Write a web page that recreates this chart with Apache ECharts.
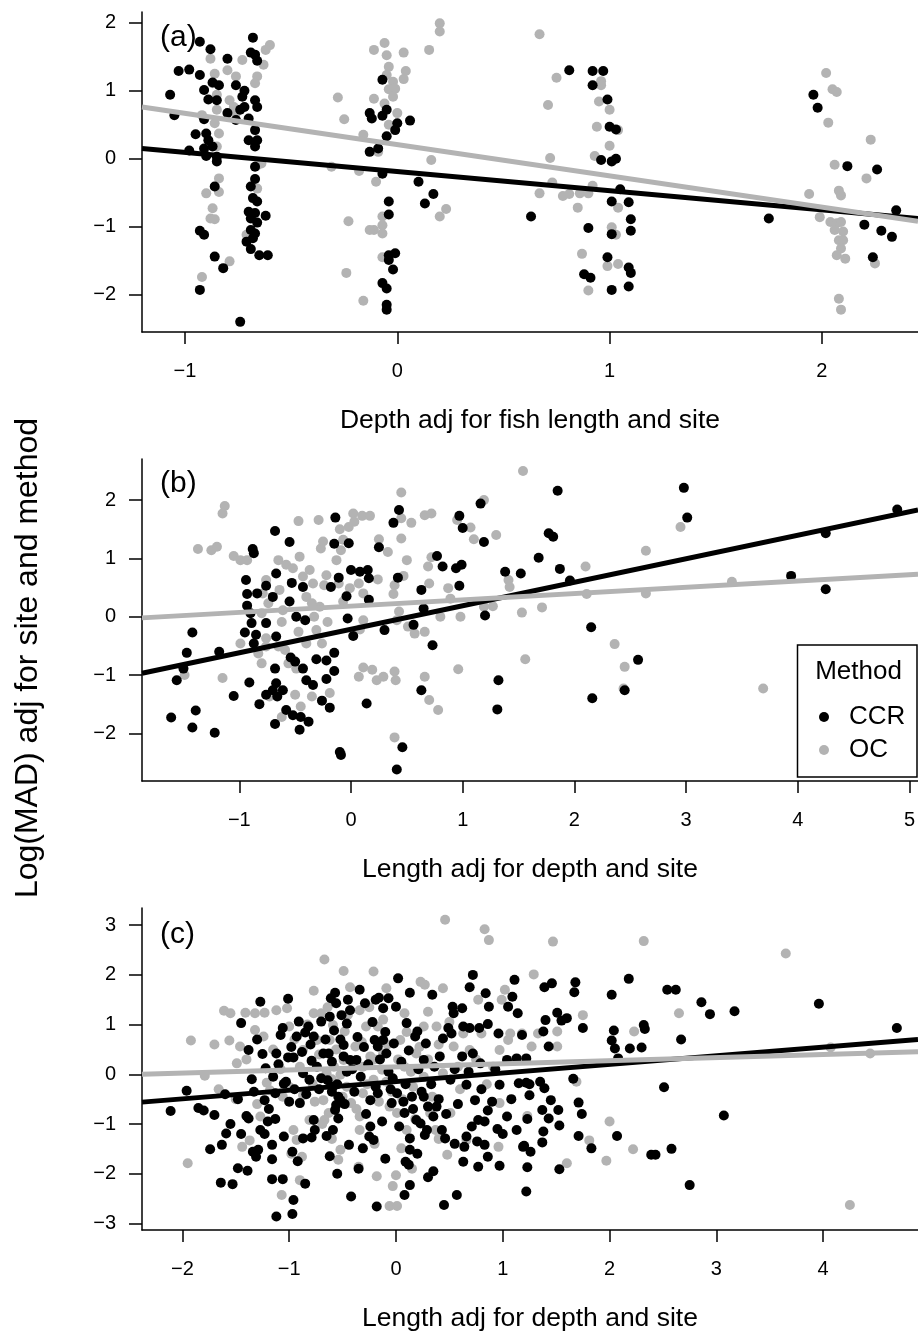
<!DOCTYPE html>
<html>
<head>
<meta charset="utf-8">
<script src="https://cdn.jsdelivr.net/npm/echarts@6/dist/echarts.min.js"></script>
<style>
  html, body { margin: 0; padding: 0; background: #fff; }
  #chart { width: 918px; height: 1334px; }
</style>
</head>
<body>
<div id="chart"></div>
<script>
// ---- data ----
// (a) depth adjusted for fish length and site
const depthCCR = [
  [-1.07,0.94],[-1.03,1.29],[-0.98,1.31],[-0.93,1.72],[-0.88,1.61],[-0.80,1.47],[-1.05,0.64],[-0.93,1.23],[-0.91,1.01],[-0.87,1.12],
  [-0.84,1.08],[-0.89,0.87],[-0.85,0.86],[-0.91,0.58],[-0.95,0.36],[-0.90,0.37],[-0.89,0.27],[-0.91,0.15],[-0.98,0.12],[-0.87,0.18],
  [-0.90,0.04],[-0.85,0.03],[-0.85,-0.04],[-0.86,-0.41],[-0.93,-1.06],[-0.91,-1.12],[-0.86,-1.44],[-0.82,-1.61],[-0.93,-1.93],[-0.80,0.67],
  [-0.74,-2.40],[-0.68,1.78],[-0.69,1.56],[-0.67,1.53],[-0.66,1.44],[-0.76,1.08],[-0.72,1.00],[-0.73,0.91],[-0.67,0.86],[-0.72,0.76],
  [-0.66,0.76],[-0.74,0.72],[-0.76,0.57],[-0.70,0.59],[-0.67,0.42],[-0.70,0.27],[-0.66,0.27],[-0.67,0.18],[-0.67,-0.12],[-0.67,-0.30],
  [-0.69,-0.41],[-0.68,-0.58],[-0.66,-0.63],[-0.70,-0.78],[-0.67,-0.80],[-0.62,-0.84],[-0.69,-0.88],[-0.66,-0.94],[-0.69,-1.05],[-0.67,-1.10],
  [-0.68,-1.17],[-0.69,-1.33],[-0.65,-1.42],[-0.61,-1.42],[-0.71,-1.22],
  [-0.07,1.16],[-0.13,0.67],[-0.12,0.59],[-0.07,0.63],[-0.05,0.72],[0.00,0.52],[0.06,0.56],[-0.01,0.42],[-0.05,0.33],[-0.09,0.15],
  [-0.13,0.10],[-0.07,-0.22],[0.10,-0.34],[0.17,-0.52],[0.13,-0.66],[-0.04,-0.63],[-0.04,-0.82],[-0.04,-1.42],[-0.01,-1.39],[-0.04,-1.49],
  [-0.02,-1.63],[-0.07,-1.83],[-0.05,-1.91],[-0.05,-2.15],[-0.05,-2.22],[0.63,-0.85],
  [0.81,1.30],[0.92,1.29],[0.97,1.29],[0.92,1.08],[0.99,0.87],[1.00,0.47],[1.03,0.43],[0.96,-0.02],[1.01,-0.04],[1.03,0.00],
  [1.05,-0.45],[1.01,-0.63],[1.09,-0.64],[1.10,-0.89],[1.10,-1.06],[0.90,-1.02],[1.01,-1.11],[0.99,-1.45],[0.88,-1.70],[0.91,-1.75],
  [1.09,-1.60],[1.10,-1.68],[1.01,-1.93],[1.09,-1.88],[1.75,-0.88],[1.96,0.94],[1.98,0.75],[2.12,-0.11],[2.26,-0.16],[2.35,-0.76],
  [2.20,-0.97],[2.28,-1.06],[2.33,-1.15],[2.24,-1.45]
];
const depthOC = [
  [-0.60,1.67],[-0.62,1.60],[-0.63,1.38],[-0.66,1.21],[-0.67,1.11],[-0.73,1.45],[-0.80,1.30],[-0.88,1.47],[-0.86,1.25],[-0.87,1.11],
  [-0.85,0.94],[-0.76,1.21],[-0.79,0.86],[-0.77,0.76],[-0.76,0.67],[-0.85,0.72],[-0.86,0.52],[-0.84,0.37],[-0.85,0.18],[-0.92,0.64],
  [-0.84,-0.29],[-0.84,-0.49],[-0.90,-0.51],[-0.87,-0.73],[-0.88,-0.88],[-0.86,-0.89],[-0.79,-1.51],[-0.92,-1.74],[-0.66,-0.44],[-0.64,-0.07],
  [-0.71,-1.12],[-0.66,-0.10],
  [-0.28,0.90],[-0.25,0.58],[-0.16,0.35],[-0.31,-0.12],[-0.18,-0.18],[-0.23,-0.92],[-0.24,-1.68],[-0.16,-2.09],[-0.11,1.60],[-0.06,1.70],
  [-0.05,1.52],[-0.04,1.35],[-0.05,1.23],[-0.02,1.13],[-0.04,1.02],[-0.01,1.03],[-0.11,0.88],[-0.06,0.81],[-0.02,0.91],[0.03,1.56],
  [0.04,1.29],[0.03,1.17],[0.00,0.67],[-0.04,0.50],[-0.09,0.10],[-0.10,-0.34],[-0.07,-0.85],[-0.11,-1.05],[-0.13,-1.05],[-0.07,-1.10],
  [-0.07,-0.98],[-0.07,-1.45],[0.20,1.99],[0.20,1.87],[0.15,1.60],[0.16,-0.02],[0.23,-0.74],[0.20,-0.85],
  [0.67,1.83],[0.75,1.19],[0.71,0.79],[0.72,0.01],[0.73,-0.35],[0.67,-0.51],[0.78,-0.55],[0.81,-0.52],[0.86,-0.51],[0.90,-0.51],
  [0.92,-0.40],[0.85,-0.72],[0.96,1.14],[0.96,1.08],[0.95,0.84],[1.00,0.72],[0.94,0.47],[1.04,0.42],[1.00,0.19],[0.93,0.04],
  [1.04,-0.72],[1.01,-1.01],[1.03,-1.12],[0.87,-1.40],[0.99,-1.58],[1.04,-1.55],[0.90,-1.94],
  [2.02,1.26],[2.05,1.02],[2.07,0.98],[2.03,0.53],[2.23,0.28],[2.06,-0.09],[2.21,-0.29],[2.08,-0.47],[2.09,-0.54],[1.94,-0.52],
  [1.99,-0.86],[2.04,-0.93],[2.07,-0.95],[2.09,-0.93],[2.06,-1.05],[2.10,-1.07],[2.08,-1.20],[2.10,-1.20],[2.09,-1.32],[2.07,-1.42],
  [2.11,-1.47],[2.25,-1.54],[2.08,-2.06],[2.09,-2.22]
];

// (b) length adjusted for depth and site
const lengthCCR_b = [
  [-1.61,-1.73],[-1.42,-1.90],[-1.39,-1.61],[-1.22,-1.99],[-1.56,-1.09],[-1.50,-0.89],[-1.47,-0.62],[-1.42,-0.27],[-1.18,-0.60],[-1.05,-1.36],
  [-0.91,-1.13],[-0.82,-1.50],[-0.68,-1.84],[-0.68,1.47],[-0.88,1.16],[-0.87,1.09],[-0.94,0.63],[-0.93,0.39],[-0.84,0.40],[-0.93,0.19],
  [-0.76,0.53],[-0.67,0.74],[-0.70,0.34],[-0.90,0.06],[-0.89,-0.11],[-0.95,-0.27],[-0.85,-0.31],[-0.87,-0.46],[-0.67,-0.34],[-0.76,-0.11],
  [-0.68,-0.89],[-0.67,-1.14],[-0.70,-1.26],[-0.76,-1.34],[-0.66,-1.37],[-0.61,-1.26],[-0.58,-1.60],[-0.52,-1.69],[-0.45,-1.72],[-0.38,-1.80],
  [-0.46,-1.94],[-0.55,0.26],[-0.53,0.58],[-0.55,1.28],[-0.43,0.51],[-0.41,-0.06],[-0.49,0.00],[-0.54,-0.70],[-0.50,-0.77],[-0.43,-0.89],
  [-0.40,-1.09],[-0.34,-1.17],[-0.31,-0.73],[-0.22,-0.75],[-0.15,-0.62],[-0.15,-0.93],[-0.22,-1.07],[-0.26,-1.44],[-0.19,-1.56],[-0.15,1.25],
  [-0.14,1.70],[-0.18,0.51],[-0.11,0.67],[-0.04,0.35],[-0.02,1.26],[0.00,0.80],[0.08,0.77],[0.15,0.80],[0.16,0.66],[0.16,0.29],
  [-0.03,-0.03],[0.02,-0.33],[0.14,-1.49],[-0.10,-2.32],[-0.09,-2.37],[0.25,1.19],[0.38,1.61],[0.43,1.83],[0.42,0.67],[0.30,-0.23],
  [0.46,-2.24],[0.41,-2.62],[0.63,0.46],[0.56,-0.14],[0.65,0.14],[0.73,-0.49],[0.63,-1.26],[0.77,1.04],[0.82,0.86],[0.94,0.83],
  [0.99,0.89],[0.97,0.53],[0.97,1.73],[1.00,1.52],[1.16,1.94],[1.19,1.28],[1.20,0.02],[1.32,-1.09],[1.31,-1.59],[1.38,0.77],
  [1.52,0.74],[1.85,2.16],[1.77,1.43],[1.81,1.37],[1.68,1.01],[1.87,0.82],[1.96,0.62],[2.15,-0.18],[2.57,-0.74],[2.16,-1.40],
  [2.45,-1.26],[2.98,2.21],[3.01,1.70],[3.94,0.70],[4.25,1.43],[4.25,0.47],[4.89,1.84]
];
const lengthOC_b = [
  [-1.49,-1.00],[-1.37,1.16],[-1.25,1.14],[-1.20,1.20],[-1.13,1.90],[-1.15,1.77],[-1.15,-1.05],[-1.05,1.04],[-0.99,0.97],[-0.93,0.97],
  [-0.99,-0.46],[-0.76,0.63],[-0.79,0.40],[-0.74,0.23],[-0.80,0.06],[-0.76,-0.37],[-0.83,-0.63],[-0.80,-0.80],[-0.76,-0.51],[-0.73,-1.37],
  [-0.62,-1.72],[-0.65,0.97],[-0.58,0.89],[-0.52,0.83],[-0.64,0.46],[-0.61,0.11],[-0.62,-0.09],[-0.65,-0.51],[-0.59,-0.57],[-0.56,-0.80],
  [-0.49,-0.89],[-0.50,-1.34],[-0.45,-1.54],[-0.47,1.64],[-0.46,1.03],[-0.43,0.69],[-0.40,0.34],[-0.47,-0.26],[-0.40,-0.46],[-0.37,0.80],
  [-0.34,0.57],[-0.35,0.23],[-0.33,0.00],[-0.31,-0.23],[-0.29,1.66],[-0.27,1.17],[-0.25,1.29],[-0.24,0.54],[-0.22,0.71],[-0.28,0.17],
  [-0.21,-0.09],[-0.26,-0.46],[-0.35,-1.37],[-0.19,-1.31],[-0.10,1.50],[-0.07,1.32],[-0.02,1.54],[0.02,1.77],[0.10,1.73],[0.17,1.73],
  [0.03,1.63],[-0.09,1.14],[-0.13,0.97],[-0.11,0.57],[-0.01,0.49],[0.07,0.57],[0.11,0.40],[-0.07,0.26],[0.11,-0.06],[0.08,-0.22],
  [0.25,1.33],[0.33,1.11],[0.24,0.64],[0.45,2.13],[0.45,1.69],[0.54,1.61],[0.45,1.34],[0.50,0.97],[0.47,0.70],[0.39,0.54],
  [0.38,0.39],[0.43,0.09],[0.41,-0.06],[0.51,-0.17],[0.57,-0.29],[0.66,-0.26],[0.07,-1.03],[0.11,-0.87],[0.19,-0.91],[0.23,-1.09],
  [0.29,-1.03],[0.39,-0.94],[0.40,-1.09],[0.39,-2.07],[0.66,-1.03],[0.70,-1.43],[0.78,-1.60],[0.66,1.74],[0.72,1.77],[0.72,1.02],
  [0.69,0.86],[0.70,0.57],[0.80,0.00],[0.87,0.49],[0.89,0.31],[0.98,0.00],[0.95,1.66],[1.07,1.53],[1.10,1.33],[1.19,2.00],
  [1.30,1.40],[0.96,-0.90],[1.19,0.17],[1.27,0.18],[1.41,0.63],[1.42,0.51],[1.53,0.07],[1.56,-0.73],[1.54,2.50],[1.71,0.16],
  [2.10,0.86],[2.11,0.39],[2.36,-0.47],[2.45,-0.86],[2.44,-1.23],[2.64,1.13],[2.64,0.40],[2.95,1.54],[3.41,0.60],[3.69,-1.23]
];

// (c) length adjusted for depth and site, second data set
const lengthCCR_c = [
  [-2.11,-0.74],[-1.96,-0.33],[-1.85,-0.68],[-1.80,-0.73],[-1.70,-0.82],[-1.74,-1.51],[-1.63,-1.42],[-1.59,-1.19],[-1.64,-2.18],[-1.53,-2.21],
  [-1.48,-1.89],[-1.39,-1.94],[-1.48,-0.50],[-1.40,-0.84],[-1.38,-0.89],[-1.34,-1.56],[-1.31,-1.66],[-1.29,-1.52],[-1.23,-1.20],[-1.16,-1.42],
  [-1.16,-1.71],[-1.16,-2.11],[-1.06,-2.11],[-1.12,-2.86],[-0.97,-2.81],[-0.96,-2.53],[-0.97,-1.56],[-1.13,-0.90],[-1.19,-0.70],[-1.27,1.46],
  [-1.45,1.03],[-1.38,0.49],[-1.25,0.41],[-1.33,-0.35],[-1.12,0.42],[-1.08,0.79],[-1.06,0.93],[-1.01,1.52],[-1.03,-0.15],[-1.01,0.34],
  [-0.96,0.34],[-0.91,1.06],[-0.93,0.76],[-0.85,0.84],[-0.82,0.96],[-0.77,0.76],[-0.79,0.27],[-0.87,0.02],[-0.81,-0.11],[-0.70,-0.08],
  [-1.05,-0.19],[-1.00,-0.55],[-0.90,-0.58],[-0.87,-1.29],[-0.79,-1.27],[-0.68,0.42],[-0.70,1.06],[-0.62,1.16],[-0.57,1.64],[-0.61,1.53],
  [-0.56,1.43],[-0.45,1.50],[-0.51,1.19],[-0.43,1.29],[-0.34,1.70],[-0.29,1.43],[-0.63,0.42],[-0.60,-0.35],[-0.54,-0.45],[-0.57,-0.72],
  [-0.54,-0.89],[-0.49,0.59],[-0.49,0.36],[-0.43,0.29],[-0.37,0.29],[-0.46,0.05],[-0.44,-1.42],[-0.42,-2.46],[-0.24,-1.05],[-0.25,-1.25],
  [-0.31,-1.49],[-0.21,-1.32],[-0.18,-2.66],[-0.17,-0.38],[-0.24,-0.52],[-0.20,0.69],[-0.17,0.56],[-0.12,0.69],[-0.09,0.42],[-0.19,1.50],
  [-0.16,1.54],[-0.12,1.33],[-0.07,1.53],[0.00,1.36],[0.02,1.93],[0.13,1.64],[-0.03,-0.08],[0.01,-0.38],[-0.04,-0.58],[0.07,-0.55],
  [0.15,-0.45],[0.08,-0.78],[0.19,-0.92],[0.13,-1.29],[0.13,-1.52],[0.09,-1.76],[0.12,-1.82],[0.13,-2.23],[0.08,-2.43],[0.30,-2.07],
  [0.27,-1.22],[0.23,-0.99],[0.29,-1.12],[0.35,-0.85],[0.38,-0.65],[0.26,-0.45],[0.30,-0.65],[0.43,-1.12],[0.46,-1.29],[0.45,-2.63],
  [0.57,-2.43],[0.63,-1.76],[0.77,-1.86],[0.77,-0.92],[0.83,-0.95],[0.76,-1.35],[0.83,-1.42],[0.86,-1.66],[0.64,-1.46],[0.66,-1.25],
  [0.74,-0.52],[0.86,-0.73],[0.97,-1.84],[1.04,-0.85],[1.13,-1.12],[1.19,-1.46],[1.22,-2.36],[0.97,-0.21],[1.15,-0.18],[1.22,-0.17],
  [0.66,-0.21],[0.51,-0.11],[0.26,0.29],[0.41,0.36],[0.62,0.36],[0.72,0.42],[0.79,0.22],[0.18,0.76],[0.20,0.86],[0.10,1.03],
  [0.49,0.93],[0.52,0.82],[0.63,0.96],[0.69,0.93],[0.78,0.93],[0.86,1.01],[0.96,0.82],[0.54,1.23],[0.62,1.33],[0.53,1.36],
  [0.34,1.60],[0.69,1.75],[0.72,2.00],[0.84,1.63],[0.87,1.36],[1.05,1.36],[1.09,1.56],[1.11,1.90],[1.14,1.23],[1.18,0.79],
  [1.04,0.29],[1.13,0.32],[-0.77,-0.92],[-0.76,-1.12],[-0.65,-1.24],[-0.59,-1.12],[-0.52,-0.52],[-0.59,-0.25],[-0.56,-0.62],[-1.13,-0.38],
  [-1.23,-0.52],[-1.27,-1.12],
  [-1.22,0.12],[-1.15,-0.05],[-1.10,0.20],[-0.98,0.55],[-0.95,-0.30],[-0.88,0.45],[-0.84,-0.40],[-0.80,0.60],[-0.74,0.15],[-0.72,-0.30],
  [-0.66,0.70],[-0.64,-0.12],[-0.60,0.25],[-0.58,0.88],[-0.55,-0.20],[-0.52,0.70],[-0.48,-0.60],[-0.46,1.02],[-0.41,0.10],[-0.39,-0.35],
  [-0.36,0.75],[-0.33,-0.05],[-0.30,0.55],[-0.28,-0.80],[-0.26,0.20],[-0.22,1.05],[-0.19,-0.25],[-0.15,0.30],[-0.13,-0.95],[-0.10,0.85],
  [-0.07,0.05],[-0.05,-0.30],[-0.02,0.62],[0.03,-1.05],[0.05,0.25],[0.09,-0.20],[0.12,0.48],[0.16,-0.70],[0.21,0.10],[0.24,-0.35],
  [0.28,0.62],[0.33,-0.20],[0.36,0.15],[0.40,-0.50],[0.44,0.72],[0.47,-0.80],[0.55,0.10],[0.58,-0.60],[0.68,0.05],[0.71,-1.05],
  [0.80,-0.30],[0.90,-0.55],[0.93,0.10],[1.00,-1.20],[1.08,-0.50],[-1.60,-0.40],[-1.55,-1.00],[-1.45,-1.20],[-1.35,-0.10],[-1.30,0.70],
  [-1.20,-0.95],[-1.05,-1.25],[-0.92,-1.75],[-0.85,-2.20],[-0.62,-1.65],[-0.55,-2.00],[-0.35,-1.90],[-0.10,-1.70],[0.20,-1.60],[0.35,-1.95],
  [0.55,-1.40],[0.95,-1.10],
  [1.22,0.32],[1.25,-0.20],[1.25,-0.42],[1.35,-0.15],[1.39,-0.28],[1.39,1.75],[1.46,1.83],[1.40,1.09],[1.38,0.86],[1.43,0.56],
  [1.51,1.24],[1.55,1.08],[1.60,1.13],[1.68,1.85],[1.67,1.65],[1.75,0.93],[1.66,-0.09],[1.45,-0.52],[1.37,-0.72],[1.52,-0.72],
  [1.43,-0.89],[1.23,-0.90],[1.53,-1.03],[1.38,-1.15],[1.37,-1.37],[1.20,-1.44],[1.26,-1.56],[1.23,-1.87],[1.53,-1.91],[1.71,-0.57],
  [1.74,-0.80],[1.71,-1.24],[1.83,-1.49],[2.02,1.60],[2.04,0.88],[2.02,0.68],[2.05,0.52],[2.07,-1.24],[2.18,1.92],[2.19,0.52],
  [2.30,0.54],[2.32,0.99],[2.33,0.91],[2.08,0.32],[2.39,-1.62],[2.43,-1.62],[2.54,1.70],[2.62,1.70],[2.67,0.70],[2.51,-0.26],
  [2.58,-1.50],[2.75,-2.23],[2.86,1.45],[2.94,1.21],[3.07,-0.83],[3.17,1.27],[3.96,1.42],[4.69,0.93]
];
const lengthOC_c = [
  [-1.95,-1.79],[-1.92,0.68],[-1.79,-0.03],[-1.66,-0.30],[-1.61,1.28],[-1.56,0.68],[-1.55,1.23],[-1.49,0.22],[-1.46,0.56],[-1.44,-1.46],
  [-1.41,1.24],[-1.37,-1.33],[-1.32,1.23],[-1.32,0.89],[-1.27,-0.85],[-1.24,0.76],[-1.23,1.24],[-1.21,-0.17],[-1.18,-0.32],[-1.12,1.29],
  [-1.07,-2.43],[-1.02,1.33],[-1.00,0.96],[-0.96,-1.12],[-0.93,-1.32],[-0.90,-2.13],[-0.88,-1.66],[-0.87,-0.42],[-0.81,-0.92],[-0.77,1.23],
  [-0.77,1.68],[-0.74,0.69],[-0.70,1.23],[-0.67,2.31],[-0.65,0.02],[-0.63,-0.78],[-0.59,0.99],[-0.58,0.15],[-0.54,-1.72],[-0.52,-1.52],
  [-0.49,2.08],[-0.48,0.86],[-0.46,-0.25],[-0.43,1.75],[-0.42,-0.58],[-0.38,0.56],[-0.35,-1.86],[-0.34,1.29],[-0.34,-0.85],[-0.31,0.15],
  [-0.28,0.96],[-0.21,2.07],[-0.21,-0.11],[-0.18,-2.05],[-0.17,0.96],[-0.13,0.09],[-0.09,1.73],[-0.06,-2.65],[-0.03,-2.25],[0.01,-2.65],
  [0.00,-2.03],[0.01,-0.78],[0.04,0.69],[0.05,-1.49],[0.08,1.23],[0.08,0.15],[0.16,-0.25],[0.19,0.42],[0.23,1.86],[0.27,1.80],
  [0.26,0.96],[0.30,1.26],[0.32,-0.78],[0.37,-1.12],[0.38,0.96],[0.44,1.73],[0.46,3.11],[0.48,-1.62],[0.51,-0.78],[0.54,0.56],
  [0.58,0.15],[0.63,0.82],[0.66,-1.32],[0.77,1.50],[0.80,0.82],[0.83,2.92],[0.87,2.70],[0.91,0.15],[0.96,-1.46],[0.97,-0.58],
  [0.99,1.50],[1.02,1.70],[1.05,0.69],[1.07,0.82],[1.18,0.82],[0.97,0.49],[0.69,0.49],[-0.12,0.42],[-0.24,0.36],[-0.49,0.29],
  [-0.68,-0.52],[-0.87,0.49],[-1.06,-0.45],[-0.31,-0.38],[-0.34,-1.12],[-0.67,-0.92],[-0.76,-0.55],[-0.52,-0.01],[0.26,-0.05],[0.44,0.02],
  [-0.09,-0.15],[0.10,-1.12],[-0.06,-0.65],[-0.62,0.69],
  [-1.40,0.30],[-1.30,-0.60],[-1.15,0.50],[-1.08,0.10],[-1.00,-0.25],[-0.95,0.70],[-0.90,0.15],[-0.83,1.00],[-0.78,-0.20],[-0.72,0.40],
  [-0.69,-1.00],[-0.64,1.35],[-0.60,-0.10],[-0.56,0.50],[-0.50,-0.45],[-0.45,1.20],[-0.40,0.20],[-0.37,-0.70],[-0.32,0.65],[-0.27,-0.20],
  [-0.25,1.35],[-0.20,0.30],[-0.16,-0.55],[-0.12,1.10],[-0.08,0.60],[-0.04,-0.35],[0.02,0.30],[0.06,-0.50],[0.10,0.85],[0.14,0.05],
  [0.18,-0.90],[0.22,0.55],[0.30,0.30],[0.34,-0.45],[0.40,0.60],[0.50,1.05],[0.60,-0.30],[0.75,0.30],[0.85,-0.20],[-1.50,-0.50],
  [-1.70,0.60],[-0.98,-1.60],[-0.60,-1.30],[-0.20,-1.40],[0.15,-1.90],[0.40,-1.30],
  [1.29,2.01],[1.47,2.67],[1.33,0.82],[1.27,0.56],[1.51,0.86],[1.51,0.56],[1.75,1.19],[1.69,-0.15],[1.23,-0.84],[1.60,-1.79],
  [1.81,-1.33],[2.00,-0.95],[1.97,-1.74],[2.23,0.86],[2.22,-1.51],[2.32,2.68],[2.65,1.23],[3.65,2.43],[4.07,0.54],[4.44,0.42],
  [4.25,-2.63]
];

// fitted lines, end points at the plot edges
const fitA_CCR = [[-1.2025, 0.15], [2.4527, -0.88]];
const fitA_OC  = [[-1.2025, 0.76], [2.4527, -0.92]];
const fitB_CCR = [[-1.871, -0.97], [5.076, 1.83]];
const fitB_OC  = [[-1.871, -0.02], [5.076, 0.73]];
const fitC_CCR = [[-2.378, -0.56], [4.888, 0.70]];
const fitC_OC  = [[-2.378, 0.00], [4.888, 0.455]];

// tick labels
const xTicksA = [-1, 0, 1, 2];
const yTicksA = [-2, -1, 0, 1, 2];
const xTicksB = [-1, 0, 1, 2, 3, 4, 5];
const yTicksB = [-2, -1, 0, 1, 2];
const xTicksC = [-2, -1, 0, 1, 2, 3, 4];
const yTicksC = [-3, -2, -1, 0, 1, 2, 3];

const xTitles = ['Depth adj for fish length and site', 'Length adj for depth and site', 'Length adj for depth and site'];
const panelTags = ['(a)', '(b)', '(c)'];
const yTitle = 'Log(MAD) adj for site and method';
const legendTitle = 'Method';
const methods = ['CCR', 'OC'];

// ---- layout ----
const FONT = "'Liberation Sans', Arial, Helvetica, sans-serif";
const BLACK = '#000000';
const GREY = '#b3b3b3';

const panels = [
  { top: 12,  height: 320, xr: [-1.2025, 2.4527], yr: [-2.549, 2.157], xt: xTicksA, yt: yTicksA, ccr: depthCCR,    oc: depthOC,    fc: fitA_CCR, fo: fitA_OC, tagY: 38 },
  { top: 459, height: 322, xr: [-1.871, 5.076],   yr: [-2.818, 2.705], xt: xTicksB, yt: yTicksB, ccr: lengthCCR_b, oc: lengthOC_b, fc: fitB_CCR, fo: fitB_OC, tagY: 484 },
  { top: 908, height: 322, xr: [-2.378, 4.888],   yr: [-3.133, 3.346], xt: xTicksC, yt: yTicksC, ccr: lengthCCR_c, oc: lengthOC_c, fc: fitC_CCR, fo: fitC_OC, tagY: 935 }
];

const minus = v => (v < 0 ? '\u2212' + Math.abs(v) : String(v));
const axisLineStyle = { color: BLACK, width: 1.5 };

const grids = [], xAxes = [], yAxes = [], series = [], graphics = [];

panels.forEach((p, i) => {
  grids.push({ left: 142, right: 0, top: p.top, height: p.height, outerBoundsMode: 'none' });

  xAxes.push({
    type: 'value', gridIndex: i, min: p.xr[0], max: p.xr[1],
    axisLine: { show: true, onZero: false, lineStyle: axisLineStyle },
    axisTick: { show: true, length: 12, lineStyle: axisLineStyle, customValues: p.xt },
    axisLabel: { customValues: p.xt, formatter: minus, margin: 29, fontSize: 20, color: BLACK, fontFamily: FONT },
    splitLine: { show: false },
    name: xTitles[i], nameLocation: 'middle', nameGap: 89,
    nameTextStyle: { fontSize: 26.5, color: BLACK, fontFamily: FONT, verticalAlign: 'middle' }
  });

  yAxes.push({
    type: 'value', gridIndex: i, min: p.yr[0], max: p.yr[1],
    axisLine: { show: true, onZero: false, lineStyle: axisLineStyle },
    axisTick: { show: true, length: 13, lineStyle: axisLineStyle, customValues: p.yt },
    axisLabel: { customValues: p.yt, formatter: minus, margin: 26, fontSize: 20, color: BLACK, fontFamily: FONT },
    splitLine: { show: false }
  });

  series.push(
    { type: 'scatter', name: 'OC', xAxisIndex: i, yAxisIndex: i, data: p.oc, symbolSize: 10,
      itemStyle: { color: GREY, opacity: 1 }, silent: true, z: 2 },
    { type: 'scatter', name: 'CCR', xAxisIndex: i, yAxisIndex: i, data: p.ccr, symbolSize: 10,
      itemStyle: { color: BLACK, opacity: 1 }, silent: true, z: 3 },
    { type: 'line', xAxisIndex: i, yAxisIndex: i, data: p.fc, symbol: 'none', silent: true, z: 4,
      lineStyle: { color: BLACK, width: 5 } },
    { type: 'line', xAxisIndex: i, yAxisIndex: i, data: p.fo, symbol: 'none', silent: true, z: 5,
      lineStyle: { color: GREY, width: 5 } }
  );

  graphics.push({
    type: 'text', x: 160, y: p.tagY,
    style: { text: panelTags[i], font: '30px ' + FONT, fill: BLACK, align: 'left', verticalAlign: 'middle' }
  });
});

graphics.push(
  { type: 'text', x: 28, y: 658, rotation: Math.PI / 2,
    style: { text: yTitle, font: '32px ' + FONT, fill: BLACK, align: 'center', verticalAlign: 'middle' } },
  { type: 'rect', shape: { x: 797.5, y: 645, width: 119.5, height: 132 },
    style: { fill: '#fff', stroke: BLACK, lineWidth: 1.5 }, z: 10 },
  { type: 'text', x: 858.5, y: 672, z: 11,
    style: { text: legendTitle, font: '26px ' + FONT, fill: BLACK, align: 'center', verticalAlign: 'middle' } }
);

const chart = echarts.init(document.getElementById('chart'), null, { renderer: 'canvas' });
chart.setOption({
  animation: false,
  backgroundColor: '#ffffff',
  textStyle: { fontFamily: FONT },
  grid: grids,
  xAxis: xAxes,
  yAxis: yAxes,
  legend: {
    data: methods, orient: 'vertical', left: 814, top: 699, z: 12,
    icon: 'circle', itemWidth: 40, itemHeight: 10, itemGap: 7, selectedMode: false,
    textStyle: { fontSize: 26, lineHeight: 26, color: BLACK, fontFamily: FONT }
  },
  graphic: graphics,
  series: series
});
</script>
</body>
</html>
